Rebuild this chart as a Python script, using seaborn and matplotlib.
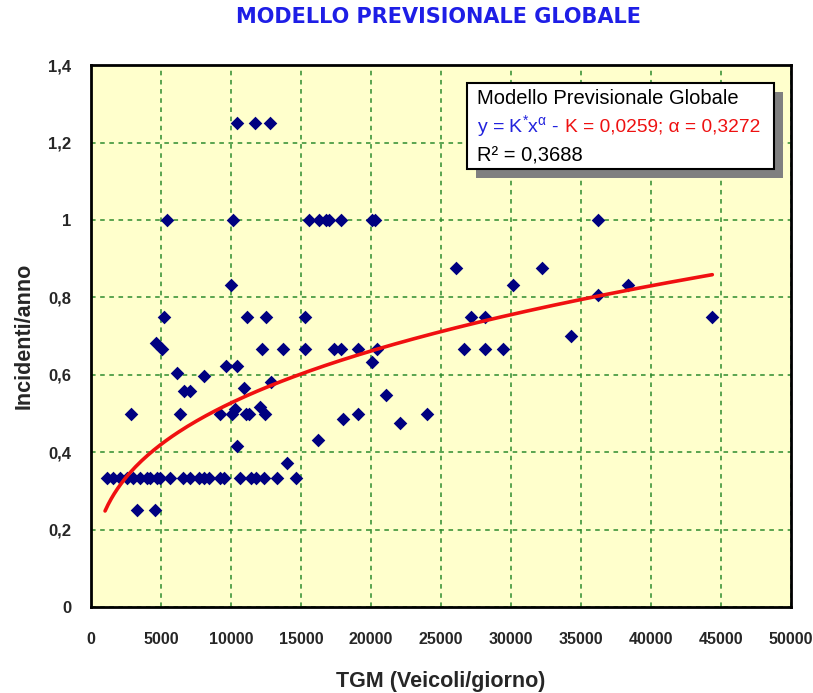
import numpy as np
import pandas as pd
import seaborn as sns
import matplotlib.pyplot as plt
from matplotlib.patches import Rectangle

# points, grouped by Incidenti/anno level
tgm = [
    10440, 11730, 12800,
    5440, 10160, 15570, 16280, 16760, 17000, 17880, 20050, 20250, 36200,
    10000, 30120, 38320,
    26040, 32190,
    36200,
    5220, 11160, 12520, 15300, 27110, 28110, 44375,
    34280,
    4660,
    5060, 12230, 13730, 15310, 17360, 17880, 19100, 20460, 26610, 28110, 29400,
    20100,
    9670, 10440,
    6140, 8090, 12820, 10910, 6610, 7090, 21100,
    12060, 10270,
    2860, 6330, 9240, 10080, 11100, 11270, 12460, 19100, 24030,
    18030, 22100, 16200, 10390, 14020,
    1120, 1600, 2080, 2560, 3030, 3510, 3990, 4230, 4710, 4940, 5660, 6590,
    7090, 7690, 8050, 8400, 9240, 9480, 10670, 11390, 11750, 12340, 13300, 14610,
    3270, 4580,
]
incidenti = [
    1.25, 1.25, 1.25,
    1.0, 1.0, 1.0, 1.0, 1.0, 1.0, 1.0, 1.0, 1.0, 1.0,
    0.833, 0.833, 0.833,
    0.875, 0.875,
    0.805,
    0.75, 0.75, 0.75, 0.75, 0.75, 0.75, 0.75,
    0.70,
    0.683,
    0.667, 0.667, 0.667, 0.667, 0.667, 0.667, 0.667, 0.667, 0.667, 0.667, 0.667,
    0.632,
    0.624, 0.624,
    0.604, 0.598, 0.582, 0.566, 0.559, 0.559, 0.548,
    0.518, 0.512,
    0.5, 0.5, 0.5, 0.5, 0.5, 0.5, 0.5, 0.5, 0.5,
    0.486, 0.475, 0.432, 0.417, 0.371,
    0.333, 0.333, 0.333, 0.333, 0.333, 0.333, 0.333, 0.333, 0.333, 0.333, 0.333, 0.333,
    0.333, 0.333, 0.333, 0.333, 0.333, 0.333, 0.333, 0.333, 0.333, 0.333, 0.333, 0.333,
    0.25, 0.25,
]

# fitted model y = K * x^alpha, as stated in the chart box
K = 0.0259
alpha = 0.3272
fit_x = np.linspace(1000, 44375, 200)
fit_y = K * fit_x ** alpha

x_ticks = [0, 5000, 10000, 15000, 20000, 25000, 30000, 35000, 40000, 45000, 50000]
x_tick_labels = [str(v) for v in x_ticks]
y_ticks = [0, 0.2, 0.4, 0.6, 0.8, 1.0, 1.2, 1.4]
y_tick_labels = ["0", "0,2", "0,4", "0,6", "0,8", "1", "1,2", "1,4"]

sns.set_style("white")
plt.rcParams["font.family"] = ["Liberation Sans", "DejaVu Sans"]
plt.rcParams["mathtext.fontset"] = "custom"
plt.rcParams["mathtext.rm"] = "Liberation Sans"
plt.rcParams["mathtext.it"] = "Liberation Sans:italic"
plt.rcParams["mathtext.bf"] = "Liberation Sans:bold"

df = pd.DataFrame({"TGM": tgm, "Incidenti": incidenti})
fit_df = pd.DataFrame({"TGM": fit_x, "Incidenti": fit_y})

fig = plt.figure(figsize=(8.13, 6.93), dpi=100)
ax = fig.add_axes([0.112, 0.124, 0.861, 0.782])
ax.set_facecolor("#FFFFCC")

sns.scatterplot(data=df, x="TGM", y="Incidenti", marker="D", color="#000080",
                s=48, linewidth=0, ax=ax, zorder=3)
sns.lineplot(data=fit_df, x="TGM", y="Incidenti", color="#F01010", lw=2.6,
             ax=ax, zorder=4)

ax.set_xlim(0, 50000)
ax.set_ylim(0, 1.4)
ax.set_xticks(x_ticks, x_tick_labels, fontweight="bold", fontsize=11.5)
ax.set_yticks(y_ticks, y_tick_labels, fontweight="bold", fontsize=12)
ax.tick_params(axis="x", direction="out", length=6, width=1.8, color="black", pad=12)
ax.tick_params(axis="y", direction="out", length=6, width=1.8, color="black", pad=8)
ax.grid(True, color="#2E8B2E", linestyle=(0, (3, 3)), linewidth=1.1)
ax.set_axisbelow(True)
for sp in ax.spines.values():
    sp.set_visible(True)
    sp.set_color("black")
    sp.set_linewidth(2)

ax.set_xlabel("TGM (Veicoli/giorno)", fontsize=15.5, fontweight="bold", labelpad=17)
ax.set_ylabel("Incidenti/anno", fontsize=15.5, fontweight="bold", labelpad=10)

fig.text(438 / 813, 1 - 17 / 693, "MODELLO PREVISIONALE GLOBALE", ha="center",
         va="center", fontsize=15, fontweight="bold", color="#1E1EE6",
         family=["DejaVu Sans"])

# formula box with drop shadow
bx, by, bw, bh = 0.537, 0.808, 0.439, 0.159
ax.add_patch(Rectangle((bx + 0.0129, by - 0.0166), bw, bh, transform=ax.transAxes,
                       facecolor="#808080", edgecolor="none", zorder=5))
ax.add_patch(Rectangle((bx, by), bw, bh, transform=ax.transAxes,
                       facecolor="white", edgecolor="black", lw=1.5, zorder=6))
box_fs = 14.5
ax.text(0.551, 0.929, "Modello Previsionale Globale", transform=ax.transAxes,
        fontsize=box_fs, va="baseline", ha="left", color="black", zorder=7)
t1 = ax.text(0.551, 0.877, r"y = K$^{*}$x$^{\mathrm{\alpha}}$ -", transform=ax.transAxes,
             fontsize=14, va="baseline", ha="left", color="#2222DD", zorder=7)
ax.text(0.551, 0.823, "R\u00b2 = 0,3688", transform=ax.transAxes,
        fontsize=box_fs, va="baseline", ha="left", color="black", zorder=7)

# red part continues right after the blue formula on the same baseline
fig.canvas.draw()
ext = t1.get_window_extent()
x_end = ax.transAxes.inverted().transform((ext.x1, ext.y0))[0]
ax.text(x_end + 0.009, 0.877, "K = 0,0259; \u03b1 = 0,3272", transform=ax.transAxes,
        fontsize=13.8, va="baseline", ha="left", color="#EE1111", zorder=7)

fig.savefig("out.png", dpi=100)
